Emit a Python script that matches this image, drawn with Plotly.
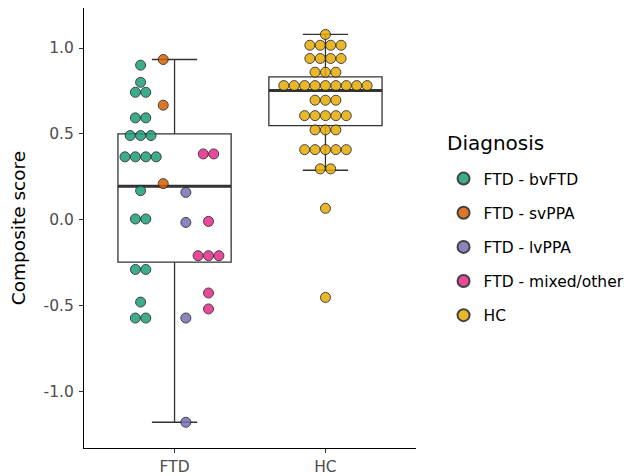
import plotly.graph_objects as go
from collections import Counter

# ---- data ----
categories = ["FTD", "HC"]
groups = ["FTD - bvFTD", "FTD - svPPA", "FTD - lvPPA", "FTD - mixed/other", "HC"]
colors = ["#1B9E77", "#D95F02", "#7570B3", "#E7298A", "#E6AB02"]

bvftd = [0.90, 0.80, 0.742, 0.742, 0.593, 0.593, 0.49, 0.49, 0.49,
         0.366, 0.366, 0.366, 0.366, 0.169, 0.004, 0.004,
         -0.29, -0.29, -0.48, -0.573, -0.573]
svppa = [0.933, 0.667, 0.21]
lvppa = [0.159, -0.016, -0.573, -1.18]
mixed = [0.383, 0.383, -0.01, -0.21, -0.21, -0.21, -0.427, -0.52]
hc = [1.079] + [1.016] * 4 + [0.939] * 4 + [0.859] * 3 + [0.781] * 9 + \
     [0.696] * 3 + [0.606] * 5 + [0.523] * 3 + [0.408] * 5 + [0.296] * 2 + \
     [0.066, -0.453]

group_values = [bvftd, svppa, lvppa, mixed, hc]
group_cat = [1, 1, 1, 1, 2]
dodge_index = [-1.5, -0.5, 0.5, 1.5, 0.0]

# box statistics per category
box_q1 = [-0.247, 0.548]
box_median = [0.194, 0.752]
box_q3 = [0.50, 0.832]
box_low = [-1.18, 0.288]
box_high = [0.933, 1.079]

DODGE = 0.15
SWARM = 0.069
BOXW = 0.75


def swarm_x(center, values):
    counts = Counter(values)
    seen = Counter()
    xs = []
    for v in values:
        n = counts[v]
        i = seen[v]
        seen[v] += 1
        xs.append(center + (i - (n - 1) / 2) * SWARM)
    return xs


fig = go.Figure()

for i, cat in enumerate(categories):
    fig.add_trace(go.Box(
        x=[i + 1], q1=[box_q1[i]], median=[box_median[i]], q3=[box_q3[i]],
        lowerfence=[box_low[i]], upperfence=[box_high[i]],
        width=BOXW, whiskerwidth=0.4, fillcolor="rgba(255,255,255,0)",
        line=dict(color="#333333", width=1.3), boxpoints=False,
        showlegend=False, hoverinfo="skip"))
    fig.add_trace(go.Scatter(
        x=[i + 1 - BOXW / 2, i + 1 + BOXW / 2], y=[box_median[i]] * 2,
        mode="lines", line=dict(color="#333333", width=3),
        showlegend=False, hoverinfo="skip"))

for g, name in enumerate(groups):
    center = group_cat[g] + dodge_index[g] * DODGE
    vals = group_values[g]
    fig.add_trace(go.Scatter(
        x=swarm_x(center, vals), y=vals, mode="markers", name=name,
        legendgroup=name,
        marker=dict(size=10, color=colors[g], opacity=0.85,
                    line=dict(color="#222222", width=1))))

fig.add_annotation(
    text="Diagnosis", xref="paper", yref="paper", x=1.087, y=0.693,
    xanchor="left", yanchor="middle", showarrow=False,
    font=dict(size=20, color="#000000"))

fig.update_layout(
    width=629, height=468,
    margin=dict(l=76, r=221, t=0, b=28),
    plot_bgcolor="white", paper_bgcolor="white",
    font=dict(family="DejaVu Sans", color="#000000"),
    legend=dict(
        font=dict(size=15.5, color="#000000"),
        x=1.083, y=0.65, xanchor="left", yanchor="top",
        tracegroupgap=11, itemsizing="constant"),
    xaxis=dict(
        range=[0.4, 2.6], tickvals=[1, 2], ticktext=categories,
        showline=True, linecolor="#000000", linewidth=1.2,
        ticks="outside", ticklen=4, tickcolor="#333333", automargin=False,
        tickfont=dict(size=15.5, color="#4D4D4D"), showgrid=False, zeroline=False),
    yaxis=dict(
        range=[-1.33, 1.233], tickvals=[-1.0, -0.5, 0.0, 0.5, 1.0],
        ticktext=["-1.0", "-0.5", "0.0", "0.5", "1.0"],
        showline=True, linecolor="#000000", linewidth=1.2,
        ticks="outside", ticklen=4, tickcolor="#333333", automargin=False,
        ticklabelstandoff=2,
        tickfont=dict(size=15.5, color="#4D4D4D"), showgrid=False, zeroline=False,
        title=dict(text="Composite score", font=dict(size=18.5, color="#000000"))),
)

fig.write_html("out.html")
